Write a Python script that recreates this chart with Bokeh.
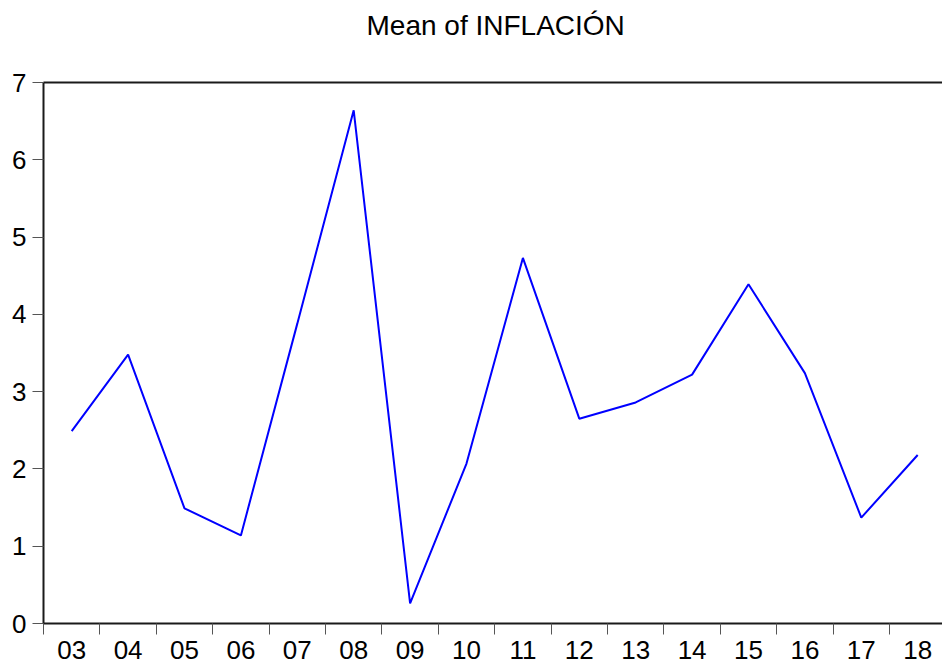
from bokeh.plotting import figure
from bokeh.models import Range1d, FixedTicker, LinearAxis
from bokeh.embed import file_html
from bokeh.resources import INLINE

categories = ["03", "04", "05", "06", "07", "08", "09", "10",
              "11", "12", "13", "14", "15", "16", "17", "18"]
inflacion = [2.49, 3.48, 1.49, 1.14, 3.88, 6.64, 0.26, 2.07,
             4.73, 2.65, 2.86, 3.22, 4.39, 3.24, 1.37, 2.18]
y_ticks = [0, 1, 2, 3, 4, 5, 6, 7]
title_text = "Mean of INFLACIÓN"

FONT = "Liberation Sans"
AXIS_COLOR = "#1a1a1a"
TICK_COLOR = "#555555"

xs = [i + 0.5 for i in range(len(categories))]

p = figure(width=942, height=666, output_backend="svg", toolbar_location=None,
           x_range=Range1d(0, 15.94), y_range=Range1d(0, 7),
           min_border_left=43, min_border_right=0, min_border_top=82,
           min_border_bottom=43)
p.outline_line_color = None
p.xgrid.visible = False
p.ygrid.visible = False
p.background_fill_color = "white"
p.border_fill_color = "white"

# x axis: labels centred on categories, tick marks at boundaries
xa = p.xaxis[0]
xa.ticker = FixedTicker(ticks=xs, minor_ticks=list(range(len(categories) + 1)))
xa.major_label_overrides = {x: c for x, c in zip(xs, categories)}
xa.major_tick_line_color = None
xa.major_tick_out = 11
xa.major_tick_in = 0
xa.minor_tick_line_color = TICK_COLOR
xa.minor_tick_out = 11
xa.minor_tick_in = 0
xa.minor_tick_line_width = 1
xa.major_label_standoff = 6
xa.major_label_text_font = FONT
xa.major_label_text_font_size = "26px"
xa.major_label_text_color = "black"
xa.axis_line_color = AXIS_COLOR
xa.axis_line_width = 2

ya = p.yaxis[0]
ya.ticker = FixedTicker(ticks=y_ticks)
ya.major_tick_line_color = TICK_COLOR
ya.major_tick_out = 11
ya.major_tick_in = 0
ya.minor_tick_line_color = None
ya.major_label_standoff = 6
ya.major_label_text_font = FONT
ya.major_label_text_font_size = "26px"
ya.major_label_text_color = "black"
ya.axis_line_color = AXIS_COLOR
ya.axis_line_width = 2

# top frame line; its (blank) axis label provides the gap under the title
top = LinearAxis(ticker=FixedTicker(ticks=[]), major_tick_out=0, major_tick_in=0,
                 minor_tick_out=0, minor_tick_in=0, major_label_standoff=0,
                 major_label_text_font_size="0px", axis_line_color=AXIS_COLOR,
                 axis_line_width=2, axis_label=" ", axis_label_standoff=28,
                 axis_label_text_font_size="10px")
p.add_layout(top, "above")

p.title.text = title_text
p.title.align = "left"
p.title.offset = 323
p.title.standoff = 0
p.title.text_font = FONT
p.title.text_font_size = "28px"
p.title.text_font_style = "normal"
p.title.text_color = "black"

p.line(xs, inflacion, line_color="#0000ff", line_width=2)

open("out.html", "w").write(file_html(p, INLINE))
